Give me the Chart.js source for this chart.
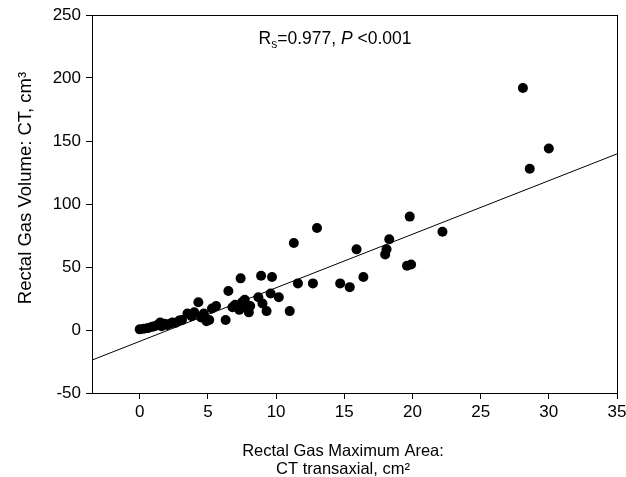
<!DOCTYPE html>
<html>
<head>
<meta charset="utf-8">
<script src="https://cdn.jsdelivr.net/npm/chart.js@4"></script>
<style>
  body { margin: 0; background: #fff; }
  canvas { display: block; }
</style>
</head>
<body>
<canvas id="gasChart" width="626" height="477"></canvas>
<script>
// values
const areaValues = [0, 0.3, 0.6, 0.9, 1.1, 1.3, 1.5, 1.6, 1.8, 2.0, 2.2, 2.4, 2.6, 2.9, 3.1, 3.5, 3.8, 4.0, 4.3, 4.5,
    4.7, 4.9, 5.1, 5.3, 5.6, 6.3, 6.5, 6.8, 7.0, 7.3, 7.4, 7.5, 7.7, 7.9, 8.0, 8.1, 8.7, 8.9, 9.0, 9.3,
    9.6, 9.7, 10.2, 11.0, 11.3, 11.6, 12.7, 13.0, 14.7, 15.4, 15.9, 16.4, 18.0, 18.1, 18.3, 19.6, 19.9, 19.8, 22.2, 28.1,
    28.6, 30.0];
const volumeValues = [0.5, 1, 1.5, 2.5, 3, 4, 6, 3, 5, 4, 5, 6, 5.5, 7.5, 8, 13, 11, 14, 22, 10,
    13, 7, 8, 17, 19, 8, 31, 18, 20, 16, 41, 22, 24, 17, 14, 19, 26, 43, 21, 15,
    29, 42, 26, 15, 69, 37, 37, 81, 37, 34, 64, 42, 60, 64, 72, 51, 52, 90, 78, 192,
    128, 144];

const xTickValues = [0, 5, 10, 15, 20, 25, 30, 35];
const fitIntercept = -9;
const fitSlope = 4.25;
const xMin = -3.5, xMax = 35;

const xTitleLines = ['Rectal Gas Maximum Area:', 'CT transaxial, cm\u00b2'];
const yTitle = 'Rectal Gas Volume: CT, cm\u00b3';

const points = areaValues.map((a, i) => ({ x: a, y: volumeValues[i] }));
const fitLine = [xMin, xMax].map(x => ({ x: x, y: fitIntercept + fitSlope * x }));

const fontFamily = '"Liberation Sans", Arial, sans-serif';

// box around the plot, axis titles and the Rs annotation
const boxAndNote = {
    id: 'boxAndNote',
    afterDraw(chart) {
        const ctx = chart.ctx;
        const a = chart.chartArea;
        ctx.save();
        ctx.strokeStyle = '#000';
        ctx.lineWidth = 1;
        ctx.strokeRect(Math.round(a.left) + 0.5, Math.round(a.top) + 0.5,
            Math.round(a.right - a.left), Math.round(a.bottom - a.top));

        ctx.fillStyle = '#000';
        ctx.textAlign = 'center';
        ctx.textBaseline = 'alphabetic';

        // x title (two lines)
        ctx.font = '16.5px ' + fontFamily;
        ctx.fillText(xTitleLines[0], 343, 456);
        ctx.fillText(xTitleLines[1], 343, 474);

        // y title (rotated)
        ctx.save();
        ctx.translate(26, 188);
        ctx.rotate(-Math.PI / 2);
        ctx.font = '18.5px ' + fontFamily;
        ctx.textBaseline = 'middle';
        ctx.fillText(yTitle, 0, 0);
        ctx.restore();

        const parts = [
            { t: 'R', f: '17.5px ' + fontFamily, dy: 0 },
            { t: 's', f: '12px ' + fontFamily, dy: 4 },
            { t: '=0.977, ', f: '17.5px ' + fontFamily, dy: 0 },
            { t: 'P', f: 'italic 17.5px ' + fontFamily, dy: 0 },
            { t: ' <0.001', f: '17.5px ' + fontFamily, dy: 0 }
        ];
        let total = 0;
        parts.forEach(p => { ctx.font = p.f; p.w = ctx.measureText(p.t).width; total += p.w; });
        let x = 335 - total / 2;
        const baseY = 44;
        ctx.textAlign = 'left';
        parts.forEach(p => {
            ctx.font = p.f;
            ctx.fillText(p.t, x, baseY + p.dy);
            x += p.w;
        });
        ctx.restore();
    }
};

const ctx = document.getElementById('gasChart').getContext('2d');
const gasChart = new Chart(ctx, {
    type: 'scatter',
    data: {
        datasets: [{
            label: 'Patients',
            data: points,
            backgroundColor: '#000',
            borderColor: '#000',
            pointRadius: 5,
            pointBorderWidth: 0
        }, {
            type: 'line',
            label: 'Fit',
            data: fitLine,
            borderColor: '#000',
            borderWidth: 1,
            pointRadius: 0,
            fill: false
        }]
    },
    options: {
        responsive: false,
        animation: false,
        layout: { padding: { top: 15, right: 9, left: 0, bottom: 0 } },
        plugins: {
            legend: { display: false },
            tooltip: { enabled: false }
        },
        scales: {
            x: {
                type: 'linear',
                min: xMin,
                max: xMax,
                afterBuildTicks: scale => {
                    scale.ticks = xTickValues.map(v => ({ value: v }));
                },
                afterFit: scale => {
                    scale.height = 84;
                    scale.paddingLeft = 0;
                    scale.paddingRight = 0;
                },
                grid: { drawOnChartArea: false, drawTicks: true, tickLength: 6, color: '#000' },
                border: { display: true, color: '#000', width: 1 },
                ticks: { color: '#000', padding: 3, maxRotation: 0, autoSkip: false, font: { family: fontFamily, size: 17 } },
                title: { display: false }
            },
            y: {
                min: -50,
                max: 250,
                afterFit: scale => {
                    scale.width = 92;
                    scale.paddingTop = 0;
                    scale.paddingBottom = 0;
                },
                grid: { drawOnChartArea: false, drawTicks: true, tickLength: 6, color: '#000' },
                border: { display: true, color: '#000', width: 1 },
                ticks: { stepSize: 50, color: '#000', padding: 5, font: { family: fontFamily, size: 17 } },
                title: { display: false }
            }
        }
    },
    plugins: [boxAndNote]
});
</script>
</body>
</html>
